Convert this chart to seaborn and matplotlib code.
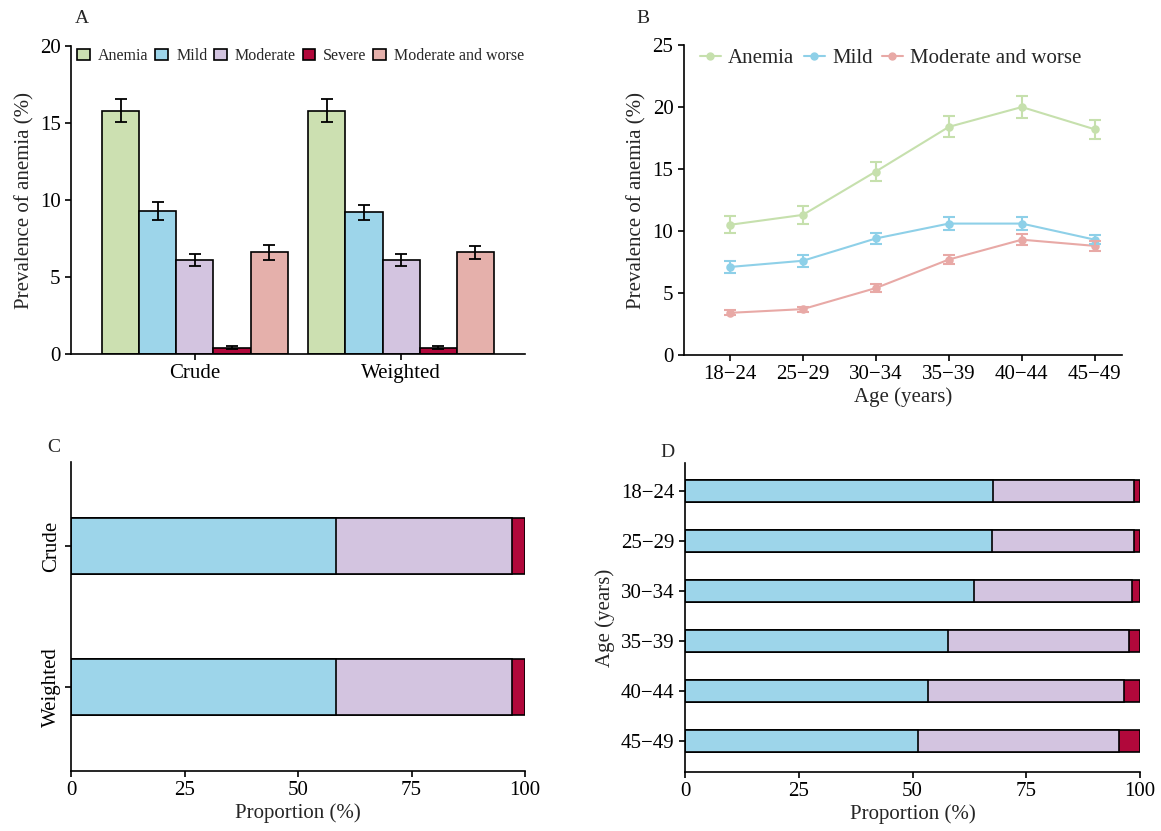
import numpy as np
import pandas as pd
import matplotlib
matplotlib.use("Agg")
import matplotlib.pyplot as plt
import seaborn as sns
from matplotlib.patches import Patch
from matplotlib.lines import Line2D

sns.set_theme(style="ticks")
plt.rcParams['font.family'] = ['Liberation Serif', 'DejaVu Serif']
plt.rcParams['axes.linewidth'] = 1.2
plt.rcParams['xtick.major.width'] = 1.2
plt.rcParams['ytick.major.width'] = 1.2
plt.rcParams['xtick.major.size'] = 4
plt.rcParams['ytick.major.size'] = 4
plt.rcParams['xtick.color'] = 'black'
plt.rcParams['ytick.color'] = 'black'
plt.rcParams['axes.edgecolor'] = 'black'

# ---------------- data ----------------
groups = ["Crude", "Weighted"]
severity = ["Anemia", "Mild", "Moderate", "Severe", "Moderate and worse"]
crude_prev = [15.8, 9.3, 6.1, 0.4, 6.6]
crude_err = [0.75, 0.6, 0.4, 0.1, 0.5]
weighted_prev = [15.8, 9.2, 6.1, 0.4, 6.6]
weighted_err = [0.75, 0.5, 0.4, 0.1, 0.4]

age_groups = ["18\u221224", "25\u221229", "30\u221234", "35\u221239", "40\u221244", "45\u221249"]
anemia_age = [10.5, 11.3, 14.8, 18.4, 20.0, 18.2]
anemia_age_err = [0.7, 0.7, 0.75, 0.85, 0.85, 0.75]
mild_age = [7.1, 7.6, 9.4, 10.6, 10.6, 9.3]
mild_age_err = [0.5, 0.5, 0.45, 0.5, 0.5, 0.35]
mw_age = [3.4, 3.7, 5.4, 7.7, 9.3, 8.8]
mw_age_err = [0.2, 0.2, 0.3, 0.4, 0.45, 0.4]
line_series = ["Anemia", "Mild", "Moderate and worse"]

comp_mild = [58.3, 58.4]
comp_moderate = [38.8, 38.7]
comp_severe = [2.9, 2.9]

age_mild = [67.7, 67.4, 63.6, 57.8, 53.3, 51.3]
age_moderate = [30.9, 31.3, 34.7, 39.7, 43.2, 44.1]
age_severe = [1.4, 1.3, 1.7, 2.5, 3.5, 4.6]

bar_colors = {"Anemia": "#cce0b1", "Mild": "#9dd5ea", "Moderate": "#d3c4e0",
              "Severe": "#b1083b", "Moderate and worse": "#e5b0ab"}
line_colors = {"Anemia": "#c6e0ad", "Mild": "#8ed0e8", "Moderate and worse": "#e8a9a6"}

FS = 15

fig = plt.figure(figsize=(11.61, 8.31), dpi=100)
axA = fig.add_axes([0.0612, 0.574, 0.391, 0.3706])
axB = fig.add_axes([0.589, 0.5728, 0.3773, 0.373])
axC = fig.add_axes([0.0612, 0.0722, 0.391, 0.3718])
axD = fig.add_axes([0.590, 0.071, 0.392, 0.3718])

# ---------------- Panel A ----------------
dfA = pd.DataFrame({
    "group": np.repeat(groups, len(severity)),
    "severity": severity * 2,
    "prev": crude_prev + weighted_prev,
    "err": crude_err + weighted_err,
})
sns.barplot(data=dfA, x="group", y="prev", hue="severity", hue_order=severity,
            palette=bar_colors, order=groups, width=0.9, errorbar=None, saturation=1,
            edgecolor="black", linewidth=1.2, legend=False, ax=axA)
bar_containers = list(axA.containers)
for i, cont in enumerate(bar_containers):
    sev = severity[i]
    for j, bar in enumerate(cont):
        row = dfA[(dfA.group == groups[j]) & (dfA.severity == sev)].iloc[0]
        axA.errorbar(bar.get_x() + bar.get_width() / 2, row.prev, yerr=row.err,
                     fmt="none", ecolor="black", elinewidth=1.3, capsize=4.5, capthick=1.3)
axA.set_xlim(-0.6, 1.6)
axA.set_ylim(0, 20)
axA.set_yticks([0, 5, 10, 15, 20])
axA.set_xlabel("")
axA.set_ylabel("Prevalence of anemia (%)", fontsize=FS)
axA.tick_params(labelsize=FS)
sns.despine(ax=axA)
handlesA = [Patch(facecolor=bar_colors[s], edgecolor="black", linewidth=1.2) for s in severity]
axA.legend(handlesA, severity, loc="upper left", bbox_to_anchor=(0.0, 1.015), ncol=5,
           frameon=False, fontsize=11.5, handlelength=0.8, handleheight=0.65,
           handletextpad=0.5, columnspacing=0.42, borderaxespad=0.2, borderpad=0.2)

# ---------------- Panel B ----------------
dfB = pd.DataFrame({
    "age": age_groups * 3,
    "series": np.repeat(line_series, len(age_groups)),
    "prev": anemia_age + mild_age + mw_age,
    "err": anemia_age_err + mild_age_err + mw_age_err,
})
sns.pointplot(data=dfB, x="age", y="prev", hue="series", hue_order=line_series,
              order=age_groups, palette=line_colors, errorbar=None, markers="o",
              markersize=5, linewidth=1.5, legend=False, ax=axB)
for s in line_series:
    sub = dfB[dfB.series == s]
    axB.errorbar(np.arange(len(age_groups)), sub.prev.values, yerr=sub.err.values,
                 fmt="none", ecolor=line_colors[s], elinewidth=1.5, capsize=4, capthick=1.5)
axB.set_xlim(-0.63, 5.37)
axB.set_ylim(0, 25)
axB.set_yticks([0, 5, 10, 15, 20, 25])
axB.set_xlabel("Age (years)", fontsize=FS, labelpad=2)
axB.set_ylabel("Prevalence of anemia (%)", fontsize=FS)
axB.tick_params(labelsize=FS)
sns.despine(ax=axB)
handlesB = [Line2D([0], [0], color=line_colors[s], marker="o", markersize=5, linewidth=1.5)
            for s in line_series]
axB.legend(handlesB, line_series, loc="upper left", bbox_to_anchor=(0.018, 1.015), ncol=3,
           frameon=False, fontsize=FS, handlelength=1.0, handletextpad=0.35,
           columnspacing=0.45, borderaxespad=0.2, borderpad=0.2)

# ---------------- Panel C ----------------
dfC = pd.DataFrame({"group": groups, "mild": comp_mild, "moderate": comp_moderate,
                    "severe": comp_severe})
dfC["c1"] = dfC.mild
dfC["c2"] = dfC.mild + dfC.moderate
dfC["c3"] = dfC.c2 + dfC.severe
for col, key in [("c3", "Severe"), ("c2", "Moderate"), ("c1", "Mild")]:
    sns.barplot(data=dfC, x=col, y="group", order=groups, orient="h", color=bar_colors[key],
                saturation=1, edgecolor="black", linewidth=1.2, width=0.4, errorbar=None, ax=axC)
axC.set_xlim(0, 100)
axC.set_ylim(1.6, -0.6)
axC.set_xticks([0, 25, 50, 75, 100])
axC.set_xlabel("Proportion (%)", fontsize=FS, labelpad=2)
axC.set_ylabel("")
axC.tick_params(labelsize=FS)
for lab in axC.get_yticklabels():
    lab.set_rotation(90)
    lab.set_va("center")
sns.despine(ax=axC)

# ---------------- Panel D ----------------
dfD = pd.DataFrame({"age": age_groups, "mild": age_mild, "moderate": age_moderate,
                    "severe": age_severe})
dfD["c1"] = dfD.mild
dfD["c2"] = dfD.mild + dfD.moderate
dfD["c3"] = dfD.c2 + dfD.severe
for col, key in [("c3", "Severe"), ("c2", "Moderate"), ("c1", "Mild")]:
    sns.barplot(data=dfD, x=col, y="age", order=age_groups, orient="h", color=bar_colors[key],
                saturation=1, edgecolor="black", linewidth=1.2, width=0.44, errorbar=None, ax=axD)
axD.set_xlim(0, 100)
axD.set_ylim(5.62, -0.56)
axD.set_xticks([0, 25, 50, 75, 100])
axD.set_xlabel("Proportion (%)", fontsize=FS, labelpad=2)
axD.set_ylabel("Age (years)", fontsize=FS)
axD.tick_params(labelsize=FS)
sns.despine(ax=axD)

# panel letters
fig.text(0.0646, 0.978, "A", fontsize=14, ha="left", va="center")
fig.text(0.5485, 0.978, "B", fontsize=14, ha="left", va="center")
fig.text(0.0410, 0.462, "C", fontsize=14, ha="left", va="center")
fig.text(0.5690, 0.456, "D", fontsize=14, ha="left", va="center")

fig.savefig("out.png", dpi=100)
